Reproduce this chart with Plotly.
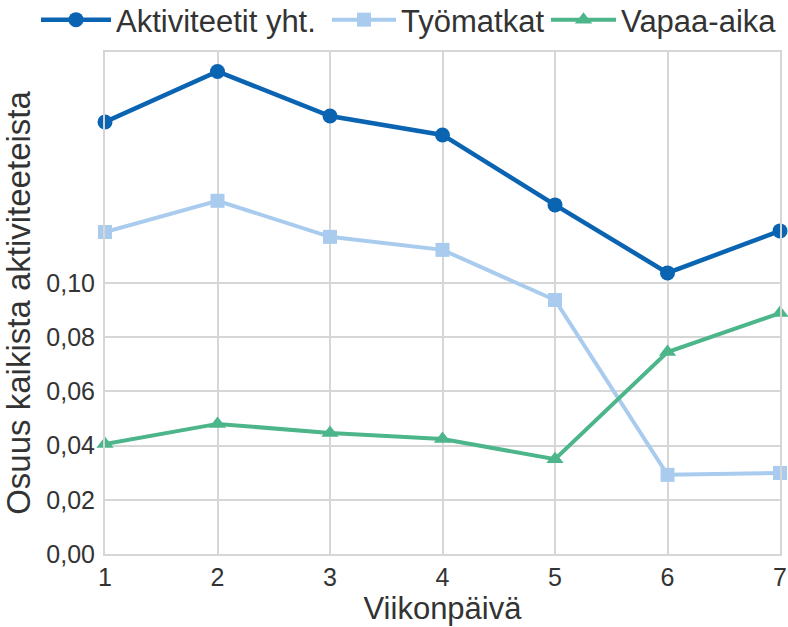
import plotly.graph_objects as go

# Weekday index (1 = Monday ... 7 = Sunday)
days = [1, 2, 3, 4, 5, 6, 7]

# Share of all activities per weekday
aktiviteetit = [0.1594, 0.1780, 0.1616, 0.1546, 0.1288, 0.1037, 0.1192]
tyomatkat = [0.1188, 0.1303, 0.1170, 0.1122, 0.0937, 0.0292, 0.0299]
vapaa_aika = [0.0406, 0.0480, 0.0446, 0.0424, 0.0350, 0.0745, 0.0889]

series_names = ["Aktiviteetit yht.", "Työmatkat", "Vapaa-aika"]

y_tickvals = [0.00, 0.02, 0.04, 0.06, 0.08, 0.10]
y_ticktext = ["0,00", "0,02", "0,04", "0,06", "0,08", "0,10"]

FONT = "Liberation Sans, Arial, sans-serif"
TEXT = "#333333"
GRID = "#d6d6d6"

W, H = 788, 627
M_L, M_R, M_T, M_B = 105, 8, 52, 73
PLOT_W = W - M_L - M_R
PLOT_H = H - M_T - M_B

styles = [
    dict(color="#0a64b2", symbol="circle", size=15, width=4.5, legend="legend"),
    dict(color="#a8cbee", symbol="square", size=14, width=4, legend="legend2"),
    dict(color="#4cb58a", symbol="triangle-up", size=15, width=4, legend="legend3"),
]

fig = go.Figure()
for name, vals, st in zip(series_names, [aktiviteetit, tyomatkat, vapaa_aika], styles):
    fig.add_trace(go.Scatter(
        x=days, y=vals, name=name, mode="lines+markers",
        line=dict(color=st["color"], width=st["width"]),
        marker=dict(color=st["color"], symbol=st["symbol"], size=st["size"]),
        cliponaxis=False, legend=st["legend"],
    ))


def legend_box(x_px, item_w, top_px=-7):
    # one legend per series, placed in pixels above the plot area
    return dict(
        orientation="h", xref="paper", yref="paper",
        x=(x_px - M_L) / PLOT_W, y=1 + (M_T - top_px) / PLOT_H,
        xanchor="left", yanchor="top",
        font=dict(size=31, color=TEXT), itemwidth=item_w,
        bgcolor="rgba(0,0,0,0)",
    )


fig.update_layout(
    width=W, height=H,
    margin=dict(l=M_L, r=M_R, t=M_T, b=M_B, autoexpand=False),
    paper_bgcolor="white", plot_bgcolor="white",
    font=dict(family=FONT, color=TEXT, size=25),
    showlegend=True,
    legend=legend_box(36, 70),
    legend2=legend_box(327, 64),
    legend3=legend_box(546, 65),
)

fig.update_xaxes(
    range=[1, 7], tickvals=days, ticktext=[str(d) for d in days],
    showgrid=True, gridcolor=GRID, gridwidth=2,
    showline=True, linecolor=GRID, linewidth=2, mirror=True,
    ticks="", zeroline=False, automargin=False,
    tickfont=dict(size=25, color=TEXT),
    title=dict(text="Viikonpäivä", font=dict(size=31, color=TEXT), standoff=2),
)
fig.update_yaxes(
    range=[0, 0.1852], tickvals=y_tickvals, ticktext=y_ticktext,
    showgrid=True, gridcolor=GRID, gridwidth=2,
    showline=True, linecolor=GRID, linewidth=2, mirror=True,
    ticks="", zeroline=False, ticklabelstandoff=3, automargin=False,
    tickfont=dict(size=25, color=TEXT),
    title=dict(text="Osuus kaikista aktiviteeteista", font=dict(size=33, color=TEXT), standoff=8),
)

fig.write_html("out.html")
